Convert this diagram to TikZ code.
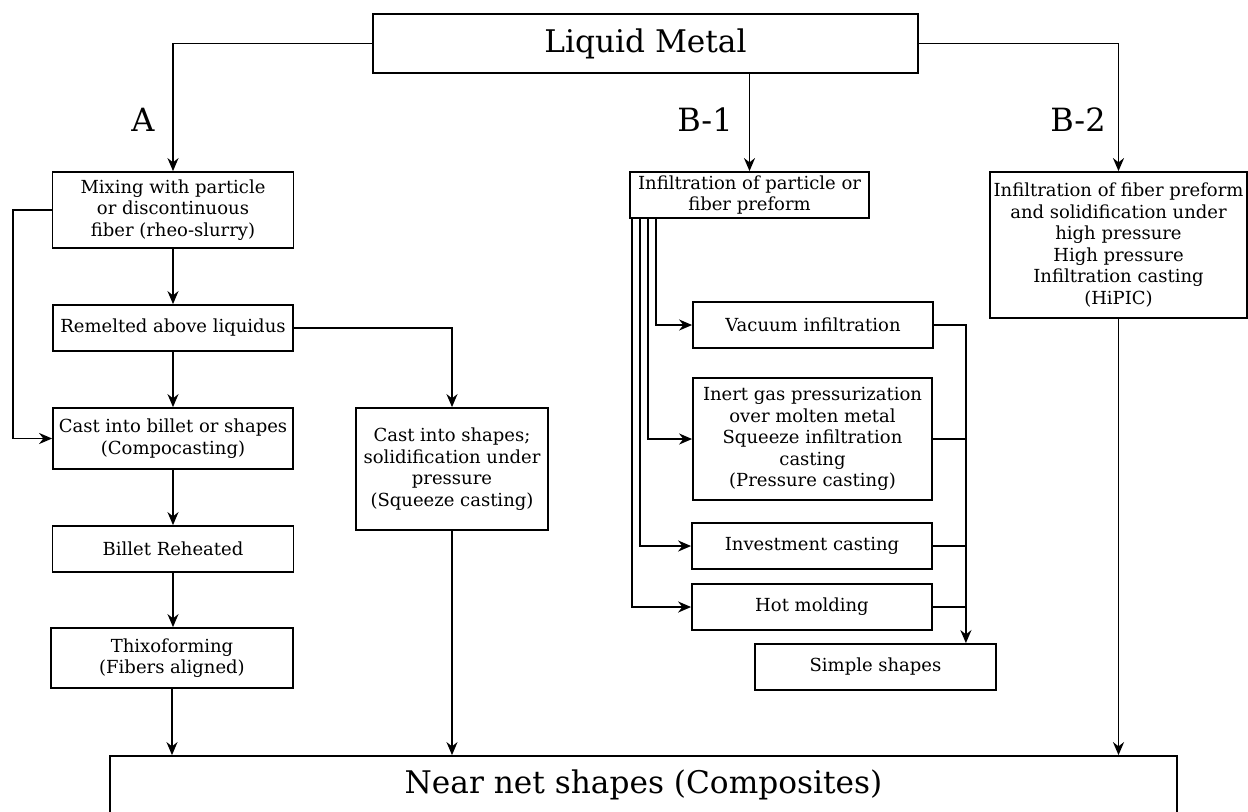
\documentclass[tikz,border=0pt]{standalone}
\usepackage{fontspec}
\setmainfont{DejaVu Serif}
\usetikzlibrary{arrows.meta,calc}

\begin{document}
\begin{tikzpicture}[
    x=0.5pt, y=-0.5pt,
    >={Stealth[length=6.5pt,width=5.5pt]},
    line width=0.9pt,
    box/.style={draw, align=center, inner sep=1pt, font=\fontsize{9}{10.8}\selectfont},
    bigbox/.style={draw, align=center, font=\fontsize{15.6}{18}\selectfont},
    route/.style={font=\fontsize{16}{18}\selectfont},
    arrow/.style={->}
]

% page frame (the bottom box runs off the page)
\clip (0,0) rectangle (1248,811);

% Source
\node[bigbox, minimum width=272.5pt, minimum height=29.5pt] (metal) at (645.5, 43.5) {Liquid Metal};

% Route A: rheo-slurry path
\node[box, minimum width=120.5pt, minimum height=38pt] (mix) at (173, 210) {Mixing with particle\\or discontinuous\\fiber (rheo-slurry)};
\node[box, minimum width=120pt, minimum height=23pt] (remelt) at (173, 328) {Remelted above liquidus};
\node[box, minimum width=120pt, minimum height=30.5pt] (compo) at (173, 438.5) {Cast into billet or shapes\\(Compocasting)};
\node[box, minimum width=120.5pt, minimum height=23pt] (billet) at (173, 549) {Billet Reheated};
\node[box, minimum width=121pt, minimum height=30pt] (thixo) at (172, 658) {Thixoforming\\(Fibers aligned)};
\node[box, minimum width=96pt, minimum height=61pt] (squeeze) at (452, 469) {Cast into shapes;\\solidification under\\pressure\\(Squeeze casting)};

% Route B-1: preform infiltration
\node[box, minimum width=119.5pt, minimum height=23pt] (preform) at (749.5, 195) {Infiltration of particle or\\fiber preform};
\node[box, minimum width=120pt, minimum height=23pt] (vacuum) at (813, 325) {Vacuum infiltration};
\node[box, minimum width=119.5pt, minimum height=61pt] (inert) at (812.5, 439) {Inert gas pressurization\\over molten metal\\Squeeze infiltration\\casting\\(Pressure casting)};
\node[box, minimum width=120pt, minimum height=23pt] (invest) at (812, 546) {Investment casting};
\node[box, minimum width=120pt, minimum height=23pt] (hot) at (812, 607) {Hot molding};
\node[box, minimum width=120.5pt, minimum height=23pt] (simple) at (875.5, 667) {Simple shapes};

% Route B-2: HiPIC
\node[box, minimum width=128.5pt, minimum height=73pt] (hipic) at (1118.5, 245) {Infiltration of fiber preform\\and solidification under\\high pressure\\High pressure\\Infiltration casting\\(HiPIC)};

% Product
\node[bigbox, minimum width=533.5pt, minimum height=29pt] (nearnet) at (643.5, 785) {Near net shapes (Composites)};

% Route labels
\node[route] (labA) at (143, 120) {A};
\node[route] (labB1) at (705, 120) {B-1};
\node[route] (labB2) at (1078, 120) {B-2};

% Branches from the melt
\draw[arrow] (metal.west) -| (mix.north);
\draw[arrow] (preform.north |- metal.south) -- (preform.north);
\draw[arrow] (metal.east) -| (hipic.north);

% Route A links
\draw[arrow] (mix) -- (remelt);
\draw[arrow] (remelt) -- (compo);
\draw[arrow] (compo) -- (billet);
\draw[arrow] (billet.south) -- (billet.south |- thixo.north);
\draw[arrow] (mix.west) -- ++(-39,0) |- (compo.west);
\draw[arrow] (remelt.east) -| (squeeze.north);

% Route B-1 links
\foreach \dx/\tgt in {3/hot, 11/invest, 19/inert, 27/vacuum}
    \draw[arrow] ($(preform.south west)+(\dx,0)$) |- (\tgt.west);
\coordinate (bus) at ($(vacuum.east)+(32,0)$);
\draw[arrow] (vacuum.east) -- (bus) -- (bus |- simple.north);
\foreach \src in {inert, invest, hot}
    \draw (\src.east) -- (\src.east -| bus);

% Into the product
\draw[arrow] (thixo.south) -- (thixo.south |- nearnet.north);
\draw[arrow] (squeeze.south) -- (squeeze.south |- nearnet.north);
\draw[arrow] (hipic.south) -- (hipic.south |- nearnet.north);

\end{tikzpicture}
\end{document}
